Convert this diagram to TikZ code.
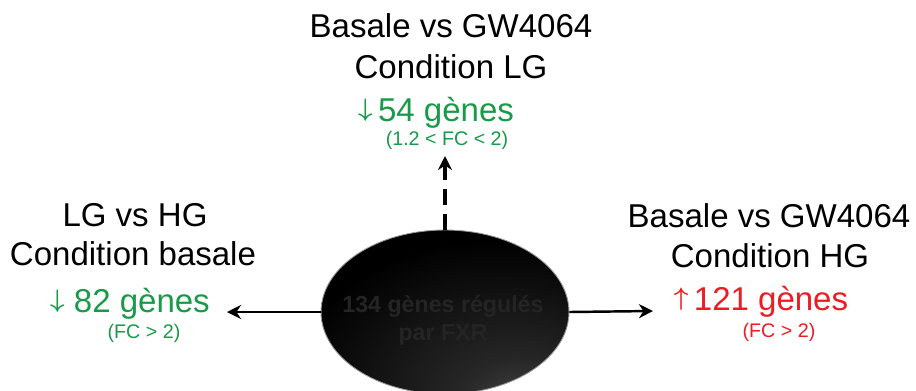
\documentclass[tikz,border=0pt]{standalone}
\usepackage{fontspec}
\setmainfont{Liberation Sans}
\usetikzlibrary{arrows.meta,shapes.geometric}
\definecolor{upred}{RGB}{237,28,36}
\definecolor{downgreen}{RGB}{24,154,72}
\pgfdeclareradialshading{hubglow}{\pgfpoint{17bp}{-30bp}}{%
  color(0bp)=(black!72); color(12bp)=(black!85); color(40bp)=(black); color(100bp)=(black)}
\newcommand{\genesDown}{{\fontsize{15}{18}\selectfont\boldmath\raisebox{0.19em}{$\downarrow$}}}
\newcommand{\genesUp}{{\fontsize{15}{18}\selectfont\boldmath\raisebox{0.19em}{$\uparrow$}}}

\begin{document}
\begin{tikzpicture}[x=0.02cm, y=-0.02cm,
    base/.style = {inner sep=0pt, anchor=base,
font=\fontsize{18.8}{22}\selectfont},
    fc/.style = {inner sep=0pt, anchor=base,
font=\fontsize{11.2}{13}\selectfont},
    down/.style = {text=downgreen},
    up/.style = {text=upred},
    hubstyle/.style = {ellipse, minimum width=4.96cm, minimum height=3.28cm,
inner sep=0pt, shading=hubglow, draw=black!40, line width=0.5pt},
    link/.style = {line width=1.4pt, -{Stealth[length=8pt,width=8pt]}}
]
  \useasboundingbox (0,0) rectangle (916,390);

  \node (hub) [hubstyle] at (445,312) {};
  \node (hubLabel) [align=center, text=black!86, font=\fontsize{13.2}{16}\selectfont\bfseries]
      at (443,320) {134 gènes régulés\\par FXR};

  % condition LG
  \node (lgHead1) [base] at (451,37) {Basale vs GW4064};
  \node (lgHead2) [base] at (451,78) {Condition LG};
  \node (lgCount) [base, down] at (436,121) {\genesDown\,54 gènes};
  \node (lgFC)    [fc, down] at (447,145) {(1.2 < FC < 2)};
  \coordinate (lgTip) at (445,156);

  % condition basale
  \node (basHead1) [base] at (135,226) {LG vs HG};
  \node (basHead2) [base] at (133,265) {Condition basale};
  \node (basCount) [base, down] at (130,312) {\genesDown{} 82 gènes};
  \node (basFC)    [fc, down] at (144,338) {(FC > 2)};
  \coordinate (basTip) at (227,312);

  % condition HG
  \node (hgHead1) [base] at (769,227) {Basale vs GW4064};
  \node (hgHead2) [base] at (770,267) {Condition HG};
  \node (hgCount) [base, up] at (761,310) {\genesUp\,121 gènes};
  \node (hgFC)    [fc, up] at (779,337) {(FC > 2)};
  \coordinate (hgTip) at (653,311);

  \draw[link] (hub.west) -- (basTip);
  \draw[link] (hub.east) -- (hgTip);
  \draw[link, line width=1.9pt, dash pattern=on 9pt off 5pt] (hub.north) -- (lgTip);

\end{tikzpicture}
\end{document}
